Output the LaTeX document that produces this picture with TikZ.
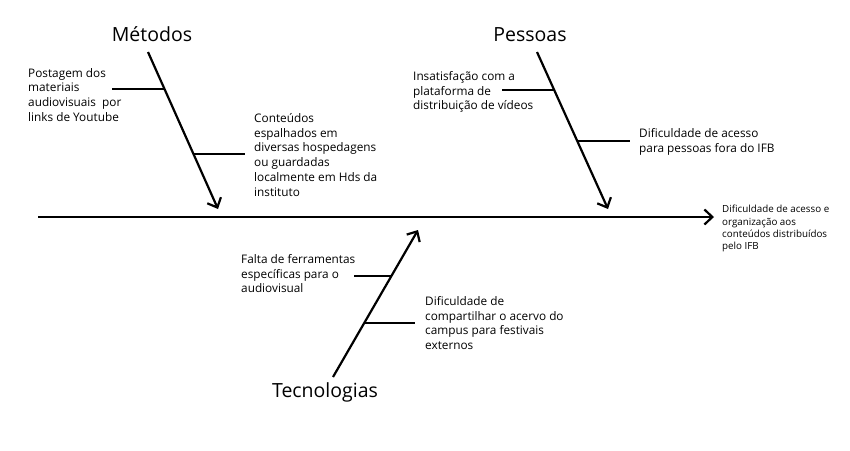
\documentclass[tikz,border=0pt]{standalone}
\usepackage{fontspec}
\setmainfont{Open Sans}
\usetikzlibrary{arrows.meta}

\begin{document}
\begin{tikzpicture}[x=1pt,y=-1pt,
  bone/.style={line width=2.2pt,-{Straight Barb[length=8pt,width=15pt,line width=2.2pt]}},
  twig/.style={line width=2.2pt},
  category/.style={inner sep=0pt,font=\fontsize{19.5}{23}\selectfont},
  cause/.style={anchor=north west,inner sep=0pt,align=left,font=\fontsize{11.8}{14.8}\selectfont},
  effect/.style={anchor=north west,inner sep=0pt,align=left,font=\fontsize{9.8}{12.3}\selectfont}
]
  \useasboundingbox (0,0) rectangle (850,450);

  % espinha principal
  \coordinate (tail) at (38,217);
  \coordinate (head) at (714,217);
  \draw[bone] (tail) -- (head);
  \node[effect] (efeito) at (722,205) {Dificuldade de acesso e\\organização aos\\conteúdos distribuídos\\pelo IFB};

  % Métodos
  \node[category] (metodos) at (152,34) {Métodos};
  \coordinate (m0) at (148,52);
  \coordinate (m1) at (218,209);
  \draw[bone] (m0) -- (m1);
  \coordinate (ma) at (112,89);
  \coordinate (mab) at (164.5,89);
  \draw[twig] (ma) -- (mab);
  \node[cause] (postagem) at (28,68) {Postagem dos\\materiais\\audiovisuais\ \ por\\links de Youtube};
  \coordinate (mb) at (245,154);
  \coordinate (mbb) at (193.5,154);
  \draw[twig] (mbb) -- (mb);
  \node[cause] (conteudos) at (254,113) {Conteúdos\\espalhados em\\diversas hospedagens\\ou guardadas\\localmente em Hds da\\instituto};

  % Pessoas
  \node[category] (pessoas) at (530,35) {Pessoas};
  \coordinate (p0) at (537,52);
  \coordinate (p1) at (608,209);
  \draw[bone] (p0) -- (p1);
  \coordinate (pa) at (502,90);
  \coordinate (pab) at (554,90);
  \draw[twig] (pa) -- (pab);
  \node[cause] (insatisfacao) at (413,71) {Insatisfação com a\\plataforma de\\distribuição de vídeos};
  \coordinate (pb) at (630,141);
  \coordinate (pbb) at (577.5,141);
  \draw[twig] (pbb) -- (pb);
  \node[cause] (acesso) at (639,128) {Dificuldade de acesso\\para pessoas fora do IFB};

  % Tecnologias
  \node[category] (tecnologias) at (325,392) {Tecnologias};
  \coordinate (t0) at (333,377);
  \coordinate (t1) at (418,230);
  \draw[bone] (t0) -- (t1);
  \coordinate (ta) at (354,276);
  \coordinate (tab) at (391.5,276);
  \draw[twig] (ta) -- (tab);
  \node[cause] (falta) at (241,254) {Falta de ferramentas\\específicas para o\\audiovisual};
  \coordinate (tb) at (415,323);
  \coordinate (tbb) at (364.5,323);
  \draw[twig] (tbb) -- (tb);
  \node[cause] (compartilhar) at (425,296) {Dificuldade de\\compartilhar o acervo do\\campus para festivais\\externos};
\end{tikzpicture}
\end{document}
